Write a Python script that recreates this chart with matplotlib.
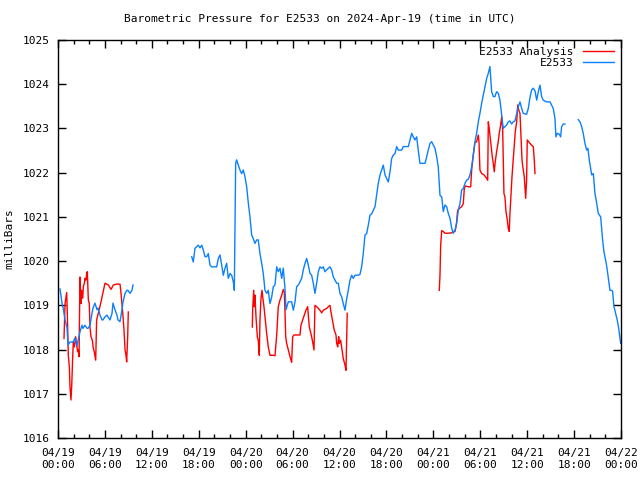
import numpy as np
import matplotlib
matplotlib.use("Agg")
import matplotlib.pyplot as plt
from matplotlib.ticker import MultipleLocator

# hours since 2024-04-19 00:00 UTC, nan = gap in data
e2533_t = [0.26, 0.51, 0.64, 0.90, 1.15, 1.28, 1.53, 1.92, 2.17, 2.43, 2.56, 2.81, 3.07, 3.20,
           3.45, 3.71, 3.84, 4.09, 4.35, 4.48, 4.73, 4.99, 5.12, 5.37, 5.63, 5.75, 6.01, 6.27,
           6.39, 6.65, 6.91, 7.03, 7.29, 7.54, 7.67, 7.93, 8.18, 8.31, 8.57, 8.82, 8.95, 9.21,
           9.46, 9.59, np.nan,
           17.10, 17.30, 17.52, 17.94, 18.16, 18.38, 18.58, 18.80, 19.02, 19.22, 19.44, 19.65,
           20.08, 20.29, 20.50, 20.72, 20.93, 21.14, 21.36, 21.57, 21.78, 22.00, 22.21, 22.42,
           22.55, 22.63, 22.72, 22.85, 23.06, 23.27, 23.49, 23.70, 23.91, 24.13, 24.34, 24.55,
           24.77, 24.97, 25.19, 25.41, 25.61, 25.83, 26.05, 26.25, 26.47, 26.69, 26.89, 27.11,
           27.33, 27.53, 27.75, 27.97, 28.17, 28.39, 28.61, 28.81, 29.03, 29.16, 29.45, 29.67,
           29.88, 30.09, 30.31, 30.52, 30.73, 30.95, 31.16, 31.37, 31.59, 31.80, 32.01, 32.23,
           32.44, 32.65, 32.86, 33.08, 33.29, 33.50, 33.72, 33.93, 34.14, 34.36, 34.57, 34.78,
           35.00, 35.21, 35.42, 35.64, 35.84, 36.06, 36.28, 36.48, 36.70, 36.92, 37.12, 37.34,
           37.56, 37.76, 37.98, 38.40, 38.62, 38.83, 39.04, 39.26, 39.47, 39.68, 39.90, 40.12,
           40.32, 40.54, 40.75, 40.96, 41.18, 41.39, 41.60, 41.82, 42.03, 42.24, 42.46, 42.67,
           42.88, 43.10, 43.31, 43.52, 43.95, 44.16, 44.80, 45.01, 45.23, 45.44, 45.65, 45.87,
           46.07, 46.29, 46.93, 47.15, 47.35, 47.57, 47.79, 48.21, 48.43, 48.63, 48.85, 49.07,
           49.27, 49.49, 49.71, 49.91, 50.13, 50.35, 50.55, 50.77, 50.98, 51.19, 51.41, 51.62,
           51.83, 52.05, 52.26, 52.47, 52.69, 52.90, 53.11, 53.32, 53.54, 53.75, 53.96, 54.18,
           54.39, 54.60, 54.82, 55.03, 55.24, 55.46, 55.67, 55.88, 56.09, 56.30, 56.52, 56.74,
           56.94, 57.16, 57.38, 57.58, 57.80, 58.02, 58.22, 58.44, 58.66, 58.86, 59.08, 59.30,
           59.50, 59.93, 60.14, 60.36, 60.57, 60.78, 61.00, 61.22, 61.42, 61.64, 61.85, 62.06,
           62.49, 62.92, 63.34, 63.55, 63.68, 63.85, 64.10, 64.28, 64.41, 64.62, 64.83, np.nan,
           66.53, 66.75, 66.97, 67.17, 67.39, 67.61, 67.77, 67.94, 68.12, 68.25, 68.46, 68.67,
           68.89, 69.09, 69.40, 69.65, 69.82, 70.08, 70.24, 70.42, 70.59, 70.81, 70.93, 71.10,
           71.36, 71.52, 71.70, 71.87, 71.96]
e2533_p = [1019.37, 1019.05, 1018.96, 1018.67, 1018.50, 1018.10, 1018.17, 1018.17, 1018.26,
           1018.08, 1018.20, 1018.40, 1018.55, 1018.48, 1018.55, 1018.48, 1018.48, 1018.55,
           1018.82, 1018.94, 1019.05, 1018.90, 1018.94, 1018.78, 1018.67, 1018.67, 1018.74,
           1018.78, 1018.74, 1018.67, 1018.82, 1019.05, 1018.90, 1018.78, 1018.67, 1018.63,
           1018.90, 1019.07, 1019.27, 1019.34, 1019.34, 1019.27, 1019.34, 1019.46, np.nan,
           1020.10, 1019.98, 1020.29, 1020.36, 1020.30, 1020.36, 1020.25, 1020.10, 1020.10,
           1020.17, 1019.91, 1019.87, 1019.87, 1019.87, 1020.06, 1020.14, 1019.91, 1019.68,
           1019.84, 1019.95, 1019.61, 1019.72, 1019.68, 1019.53, 1019.34, 1020.78, 1022.21,
           1022.29, 1022.17, 1022.06, 1021.98, 1022.06, 1021.91, 1021.68, 1021.31, 1021.00,
           1020.59, 1020.51, 1020.40, 1020.48, 1020.48, 1020.17, 1019.95, 1019.72, 1019.34,
           1019.27, 1019.34, 1019.04, 1019.19, 1019.42, 1019.46, 1019.87, 1019.76, 1019.84,
           1019.61, 1019.84, 1019.38, 1018.90, 1019.08, 1019.08, 1019.08, 1018.89, 1019.08,
           1019.42, 1019.46, 1019.53, 1019.61, 1019.80, 1019.95, 1020.06, 1019.91, 1019.72,
           1019.68, 1019.50, 1019.27, 1019.50, 1019.76, 1019.87, 1019.84, 1019.87, 1019.76,
           1019.80, 1019.84, 1019.87, 1019.80, 1019.64, 1019.57, 1019.50, 1019.50, 1019.27,
           1019.19, 1019.04, 1018.89, 1019.15, 1019.34, 1019.57, 1019.68, 1019.61, 1019.68,
           1019.68, 1019.70, 1019.87, 1020.17, 1020.59, 1020.62, 1020.81, 1021.04, 1021.07,
           1021.15, 1021.23, 1021.49, 1021.76, 1021.95, 1022.06, 1022.17, 1021.95, 1021.87,
           1021.79, 1022.02, 1022.32, 1022.40, 1022.43, 1022.59, 1022.51, 1022.51, 1022.59,
           1022.59, 1022.74, 1022.89, 1022.81, 1022.74, 1022.81, 1022.51, 1022.21, 1022.21,
           1022.36, 1022.51, 1022.66, 1022.70, 1022.55, 1022.36, 1022.13, 1021.49, 1021.45,
           1021.12, 1021.27, 1021.23, 1021.08, 1020.97, 1020.74, 1020.63, 1020.70, 1020.85,
           1021.15, 1021.30, 1021.61, 1021.64, 1021.76, 1021.83, 1021.85, 1021.95, 1022.13,
           1022.40, 1022.70, 1022.89, 1023.15, 1023.34, 1023.57, 1023.76, 1023.94, 1024.13,
           1024.25, 1024.40, 1023.83, 1023.72, 1023.72, 1023.83, 1023.80, 1023.64, 1023.30,
           1023.00, 1023.04, 1023.08, 1023.15, 1023.17, 1023.10, 1023.15, 1023.17, 1023.34,
           1023.49, 1023.60, 1023.45, 1023.34, 1023.32, 1023.45, 1023.70, 1023.87, 1023.91,
           1023.85, 1023.64, 1023.83, 1023.98, 1023.72, 1023.64, 1023.60, 1023.60, 1023.45,
           1023.23, 1022.81, 1022.89, 1022.87, 1022.81, 1023.04, 1023.10, 1023.10, np.nan,
           1023.20, 1023.15, 1023.04, 1022.89, 1022.66, 1022.51, 1022.55, 1022.29, 1022.10,
           1021.95, 1021.98, 1021.53, 1021.31, 1021.08, 1021.00, 1020.48, 1020.21, 1019.98,
           1019.80, 1019.57, 1019.34, 1019.34, 1019.31, 1018.97, 1018.78, 1018.67, 1018.48,
           1018.25, 1018.14]

analysis_t = [0.77, 0.90, 1.11, 1.19, 1.32, 1.45, 1.53, 1.66, 1.75, 1.88, 1.96, 2.09, 2.26,
              2.39, 2.52, 2.60, 2.69, 2.81, 2.94, 3.03, 3.16, 3.24, 3.37, 3.45, 3.58, 3.67,
              3.75, 3.88, 4.00, 4.09, 4.22, 4.39, 4.52, 4.64, 4.82, 4.94, 5.40, 5.70, 6.01,
              6.44, 6.78, 7.08, 7.50, 7.93, 8.06, 8.27, 8.44, 8.57, 8.70, 8.78, 8.91, 8.99,
              np.nan,
              24.85, 24.90, 25.03, 25.10, 25.19, 25.32, 25.49, 25.61, 25.74, 25.83, 25.96,
              26.09, 26.18, 26.34, 26.51, 26.69, 26.89, 27.11, 27.53, 27.75, 27.97, 28.17,
              28.39, 28.61, 28.81, 28.94, 29.03, 29.12, 29.24, 29.45, 29.67, 29.88, 30.01,
              30.18, 30.73, 30.95, 31.07, 31.29, 31.50, 31.71, 31.93, 32.01, 32.14, 32.35,
              32.57, 32.74, 32.86, 33.08, 33.50, 33.72, 33.93, 34.36, 34.57, 34.78, 34.91,
              35.13, 35.33, 35.55, 35.64, 35.77, 35.90, 35.97, 36.15, 36.32, 36.48, 36.70,
              36.83, 36.92, 36.99, np.nan,
              48.76, 48.85, 48.94, 49.07, 49.27, 49.49, 49.91, 50.35, 50.55, 50.77, 50.90,
              50.98, 51.11, 51.32, 51.62, 51.83, 51.96, 52.09, 52.47, 52.78, 52.90, 53.11,
              53.32, 53.54, 53.75, 53.84, 53.96, 54.18, 54.48, 54.82, 54.95, 55.03, 55.12,
              55.24, 55.37, 55.54, 55.67, 55.79, 55.92, 56.09, 56.30, 56.43, 56.61, 56.74,
              56.87, 56.94, 57.03, 57.16, 57.29, 57.46, 57.58, 57.71, 57.80, 57.93, 58.06,
              58.22, 58.35, 58.48, 58.66, 58.79, 58.92, 59.08, 59.21, 59.34, 59.50, 59.63,
              59.81, 59.93, 60.01, 60.19, 60.57, 60.78, 60.91, 61.00]
analysis_p = [1018.25, 1019.04, 1019.29, 1018.82, 1017.87, 1017.61, 1017.16, 1016.86, 1017.16,
              1017.84, 1018.17, 1018.06, 1018.29, 1018.10, 1017.95, 1017.99, 1017.84, 1019.64,
              1019.04, 1019.34, 1019.16, 1019.42, 1019.50, 1019.61, 1019.57, 1019.72, 1019.76,
              1019.12, 1019.04, 1018.51, 1018.29, 1018.21, 1018.02, 1017.95, 1017.76, 1018.67,
              1019.00, 1019.25, 1019.50, 1019.46, 1019.36, 1019.46, 1019.48, 1019.48, 1019.27,
              1018.85, 1018.44, 1018.00, 1017.87, 1017.72, 1018.28, 1018.85, np.nan,
              1018.51, 1018.93, 1019.34, 1018.97, 1019.23, 1018.74, 1018.29, 1018.21, 1017.87,
              1018.67, 1019.16, 1019.34, 1019.19, 1018.97, 1018.67, 1018.36, 1018.06, 1017.87,
              1017.87, 1017.86, 1018.33, 1018.97, 1019.12, 1019.23, 1019.36, 1019.30, 1018.85,
              1018.29, 1018.14, 1017.99, 1017.84, 1017.71, 1018.29, 1018.33, 1018.33, 1018.33,
              1018.55, 1018.67, 1018.78, 1018.89, 1018.97, 1018.78, 1018.51, 1018.36, 1018.17,
              1017.99, 1019.00, 1018.97, 1018.89, 1018.83, 1018.89, 1018.93, 1018.97, 1019.00,
              1018.85, 1018.63, 1018.44, 1018.33, 1018.14, 1018.06, 1018.29, 1018.14, 1018.21,
              1017.99, 1017.80, 1017.65, 1017.53, 1018.21, 1018.82, np.nan,
              1019.34, 1019.68, 1020.36, 1020.69, 1020.67, 1020.63, 1020.63, 1020.64, 1020.67,
              1020.67, 1020.78, 1020.89, 1021.15, 1021.19, 1021.23, 1021.30, 1021.64, 1021.70,
              1021.68, 1021.68, 1022.06, 1022.40, 1022.68, 1022.70, 1022.85, 1022.70, 1022.06,
              1021.98, 1021.95, 1021.87, 1021.83, 1023.15, 1023.04, 1022.85, 1022.66, 1022.36,
              1022.21, 1022.02, 1022.25, 1022.47, 1022.70, 1022.89, 1023.08, 1023.27, 1022.96,
              1022.29, 1021.53, 1021.45, 1021.12, 1020.93, 1020.74, 1020.67, 1021.08, 1021.49,
              1021.91, 1022.29, 1022.62, 1022.93, 1023.15, 1023.53, 1023.42, 1023.34, 1022.81,
              1022.29, 1022.06, 1021.91, 1021.42, 1021.83, 1022.74, 1022.70, 1022.62, 1022.59,
              1022.29, 1021.98]

tick_hours = list(range(0, 73, 6))
tick_labels = ["04/19\n00:00", "04/19\n06:00", "04/19\n12:00", "04/19\n18:00",
               "04/20\n00:00", "04/20\n06:00", "04/20\n12:00", "04/20\n18:00",
               "04/21\n00:00", "04/21\n06:00", "04/21\n12:00", "04/21\n18:00",
               "04/22\n00:00"]

plt.rcParams['font.family'] = ['DejaVu Sans Mono']
plt.rcParams['font.size'] = 8

fig = plt.figure(figsize=(6.4, 4.8), dpi=100)
ax = fig.add_axes([58/640, 42/480, 563/640, 398/480])

ax.plot(analysis_t, analysis_p, color="#ff0000", lw=1, label="E2533 Analysis")
ax.plot(e2533_t, e2533_p, color="#0a80ff", lw=1, label="E2533")

ax.set_xlim(0, 72)
ax.set_ylim(1016, 1025)
ax.set_xticks(tick_hours)
ax.set_xticklabels(tick_labels, linespacing=1.3)
ax.xaxis.set_minor_locator(MultipleLocator(2))
ax.yaxis.set_major_locator(MultipleLocator(1))
ax.tick_params(which='both', direction='in', top=True, right=True, width=1)
ax.tick_params(which='major', length=6, pad=7)
ax.tick_params(axis='y', which='major', pad=6)
ax.tick_params(which='minor', length=3)
for s in ax.spines.values():
    s.set_linewidth(1)

ax.set_ylabel("milliBars", labelpad=6)
fig.text(0.5, 1 - 19/480, "Barometric Pressure for E2533 on 2024-Apr-19 (time in UTC)",
         ha='center', va='center', fontsize=8)

ax.legend(loc='upper right', frameon=False, markerfirst=False, handlelength=2.8,
          borderaxespad=0.2, labelspacing=0.15, handletextpad=0.9)

fig.savefig("out.png", dpi=100)
